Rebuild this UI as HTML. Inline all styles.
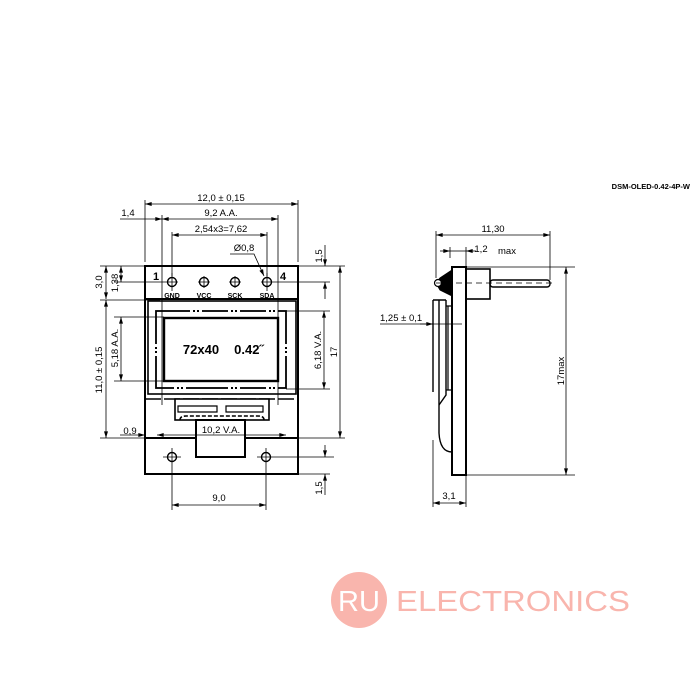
<!DOCTYPE html>
<html><head><meta charset="utf-8"><style>
html,body{margin:0;padding:0;background:#fff}
svg{display:block}
text{font-family:"Liberation Sans",sans-serif;fill:#000}
</style></head><body>
<svg width="700" height="700" viewBox="0 0 700 700" xmlns="http://www.w3.org/2000/svg">
<defs>
<marker id="a" viewBox="0 0 10 6" refX="10" refY="3" markerWidth="7" markerHeight="4" orient="auto-start-reverse" markerUnits="userSpaceOnUse"><path d="M0,0 L10,3 L0,6 z" fill="#000"/></marker>
</defs>
<text x="690" y="189" font-size="7.5" font-weight="bold" text-anchor="end">DSM-OLED-0.42-4P-W</text>

<!-- FRONT VIEW -->
<g stroke="#000" fill="none">
<rect x="145" y="266" width="153" height="208" stroke-width="2"/>
<line x1="145" y1="299" x2="298" y2="299" stroke-width="2"/>
<line x1="145" y1="438" x2="298" y2="438" stroke-width="2"/>
<rect x="148" y="301" width="148" height="93" stroke-width="1.6"/>
<rect x="156" y="311" width="130" height="77" stroke-width="1.8"/>
<rect x="164" y="318" width="114" height="63" stroke-width="2.4"/>
<path d="M145,399H298" stroke-width="1.6" stroke-dasharray="16,3"/>
<rect x="175" y="399" width="94" height="21" stroke-width="1.6" fill="#fff"/>
<path d="M178,406H217V412H178Z M226,406H263V412H226Z" stroke-width="1.2"/>
<path d="M180,420 Q180,416 186,416 H258 Q264,416 264,420" stroke-width="1.6" stroke-dasharray="4,2"/>
<rect x="196" y="420" width="49" height="37" stroke-width="2" fill="#fff"/>
<g stroke-width="1.4" fill="#fff">
<circle cx="172" cy="282" r="4.5"/><circle cx="204" cy="282" r="4.5"/><circle cx="235" cy="282" r="4.5"/><circle cx="267" cy="282" r="4.5"/>
<circle cx="172" cy="457" r="4.5"/><circle cx="266" cy="457" r="4.5"/>
</g>
</g>
<!-- frame breaks -->
<g fill="#fff" stroke="none">
<rect x="190" y="309" width="12" height="4"/><rect x="228" y="309" width="12" height="4"/><rect x="266" y="309" width="12" height="4"/>
<rect x="174" y="386" width="12" height="4"/><rect x="228" y="386" width="12" height="4"/><rect x="266" y="386" width="12" height="4"/>
<rect x="154" y="344" width="4" height="12"/><rect x="284" y="344" width="4" height="12"/>
</g>
<g fill="#000">
<rect x="193" y="310" width="2" height="2"/><rect x="197" y="310" width="2" height="2"/>
<rect x="231" y="310" width="2" height="2"/><rect x="235" y="310" width="2" height="2"/>
<rect x="269" y="310" width="2" height="2"/><rect x="273" y="310" width="2" height="2"/>
<rect x="177" y="387" width="2" height="2"/><rect x="181" y="387" width="2" height="2"/>
<rect x="231" y="387" width="2" height="2"/><rect x="235" y="387" width="2" height="2"/>
<rect x="269" y="387" width="2" height="2"/><rect x="273" y="387" width="2" height="2"/>
<rect x="155" y="347" width="2" height="2"/><rect x="155" y="351" width="2" height="2"/>
<rect x="285" y="347" width="2" height="2"/><rect x="285" y="351" width="2" height="2"/>
</g>
<g stroke="#000" fill="none" stroke-width="0.8">
<path d="M172,273V291M166,282H178M204,276V288M198,282H210M235,276V288M229,282H241M267,273V291M261,282H330"/>
<path d="M172,448V510M266,448V510M163,457H181M257,457H334"/>
<path d="M145,200V262M298,200V262M162,215V405M278,215V405M172,232V276M267,232V276"/>
<path d="M100,266H145M100,300H160M114,282H166M114,317H164M114,381H164M100,438H145"/>
<path d="M298,266H345M286,311H330M286,389H330M298,438H345M298,474H330"/>
<line x1="145" y1="204" x2="298" y2="204" marker-start="url(#a)" marker-end="url(#a)"/>
<line x1="162" y1="219" x2="278" y2="219" marker-start="url(#a)" marker-end="url(#a)"/>
<line x1="120" y1="219" x2="162" y2="219" marker-end="url(#a)"/>
<line x1="172" y1="235" x2="267" y2="235" marker-start="url(#a)" marker-end="url(#a)"/>
<path d="M230,254H254L264,276" marker-end="url(#a)"/>
<line x1="106" y1="266" x2="106" y2="299" marker-start="url(#a)" marker-end="url(#a)"/>
<line x1="121" y1="266" x2="121" y2="282" marker-start="url(#a)" marker-end="url(#a)"/>
<line x1="106" y1="300" x2="106" y2="438" marker-start="url(#a)" marker-end="url(#a)"/>
<line x1="121" y1="317" x2="121" y2="381" marker-start="url(#a)" marker-end="url(#a)"/>
<line x1="324" y1="311" x2="324" y2="389" marker-start="url(#a)" marker-end="url(#a)"/>
<line x1="340" y1="266" x2="340" y2="438" marker-start="url(#a)" marker-end="url(#a)"/>
<line x1="325" y1="245" x2="325" y2="266" marker-end="url(#a)"/>
<line x1="325" y1="299" x2="325" y2="282" marker-end="url(#a)"/>
<line x1="325" y1="445" x2="325" y2="457" marker-end="url(#a)"/>
<line x1="325" y1="495" x2="325" y2="474" marker-end="url(#a)"/>
<line x1="120" y1="435" x2="145" y2="435" marker-end="url(#a)"/>
<line x1="157" y1="435" x2="286" y2="435" marker-start="url(#a)" marker-end="url(#a)"/>
<line x1="172" y1="505" x2="266" y2="505" marker-start="url(#a)" marker-end="url(#a)"/>
</g>
<g font-size="9.5">
<text x="221" y="201" text-anchor="middle">12,0 ± 0,15</text>
<text x="221" y="216" text-anchor="middle">9,2 A.A.</text>
<text x="128" y="216" text-anchor="middle">1,4</text>
<text x="221" y="232" text-anchor="middle">2,54x3=7,62</text>
<text x="244" y="251" text-anchor="middle">Ø0,8</text>
<text x="130" y="434" text-anchor="middle">0,9</text>
<text x="221" y="433" text-anchor="middle">10,2 V.A.</text>
<text x="219" y="501" text-anchor="middle">9,0</text>
<text transform="translate(102,282) rotate(-90)" text-anchor="middle">3,0</text>
<text transform="translate(118,283) rotate(-90)" text-anchor="middle">1,38</text>
<text transform="translate(102,370) rotate(-90)" text-anchor="middle">11,0 ± 0,15</text>
<text transform="translate(118,348) rotate(-90)" text-anchor="middle">5,18 A.A.</text>
<text transform="translate(321,350) rotate(-90)" text-anchor="middle">6,18 V.A.</text>
<text transform="translate(337,352) rotate(-90)" text-anchor="middle">17</text>
<text transform="translate(322,256) rotate(-90)" text-anchor="middle">1,5</text>
<text transform="translate(322,488) rotate(-90)" text-anchor="middle">1,5</text>
</g>
<g font-size="7" font-weight="bold" text-anchor="middle">
<text x="172" y="298">GND</text><text x="204" y="298">VCC</text><text x="235" y="298">SCK</text><text x="267" y="298">SDA</text>
</g>
<text x="153" y="280" font-size="11" font-weight="bold">1</text>
<text x="280" y="280" font-size="11" font-weight="bold">4</text>
<text x="201" y="354" font-size="13" font-weight="bold" text-anchor="middle">72x40</text>
<text x="249" y="354" font-size="13" font-weight="bold" text-anchor="middle">0.42˝</text>

<!-- SIDE VIEW -->
<g stroke="#000" fill="none">
<rect x="452" y="267" width="14" height="208" stroke-width="2"/>
<rect x="466" y="269" width="24" height="30" stroke-width="1.6"/>
<rect x="490" y="280" width="60" height="7" rx="3" stroke-width="1.4"/>
<path d="M452,270 L440,278 L436,283 L440,290 L452,296 Z" fill="#000"/>
<circle cx="438" cy="283" r="3.5" fill="#fff" stroke-width="1.2"/>
<path d="M433,300 H446 M433,300 V392" stroke-width="1.4"/>
<path d="M439,300 V433 Q440,452 452,452" stroke-width="1.4"/>
<path d="M446,300 V395 L439,405" stroke-width="1.4"/>
<path d="M446,306 H452 M448,306 V390 M446,390 H452" stroke-width="1.2"/>
<g stroke-width="0.8">
<line x1="436" y1="283" x2="555" y2="283" stroke-dasharray="6,4"/>
<path d="M436,231V278M550,231V280M466,247V266M450,247V258M466,267H575M466,475H575M433,440V507M466,475V507"/>
<line x1="436" y1="235" x2="550" y2="235" marker-start="url(#a)" marker-end="url(#a)"/>
<line x1="440" y1="251" x2="450" y2="251" marker-end="url(#a)"/>
<line x1="450" y1="251" x2="466" y2="251"/>
<line x1="476" y1="251" x2="466" y2="251" marker-end="url(#a)"/>
<line x1="380" y1="324" x2="462" y2="324"/>
<line x1="420" y1="324" x2="433" y2="324" marker-end="url(#a)"/>
<line x1="566" y1="267" x2="566" y2="475" marker-start="url(#a)" marker-end="url(#a)"/>
<line x1="433" y1="503" x2="466" y2="503" marker-start="url(#a)" marker-end="url(#a)"/>
</g>
</g>
<g font-size="9.5">
<text x="493" y="232" text-anchor="middle">11,30</text>
<text x="481" y="252" text-anchor="middle">1,2</text>
<text x="498" y="254">max</text>
<text x="380" y="321">1,25 ± 0,1</text>
<text transform="translate(564,371) rotate(-90)" text-anchor="middle">17max</text>
<text x="449" y="499" text-anchor="middle">3,1</text>
</g>

<circle cx="359" cy="600" r="28" fill="#f9b5ad"/>
<text x="359" y="611" font-size="29" text-anchor="middle" style="fill:#fff">RU</text>
<text x="396" y="611" font-size="29" textLength="234" lengthAdjust="spacingAndGlyphs" style="fill:#f9b5ad">ELECTRONICS</text>
</svg>
</body></html>
